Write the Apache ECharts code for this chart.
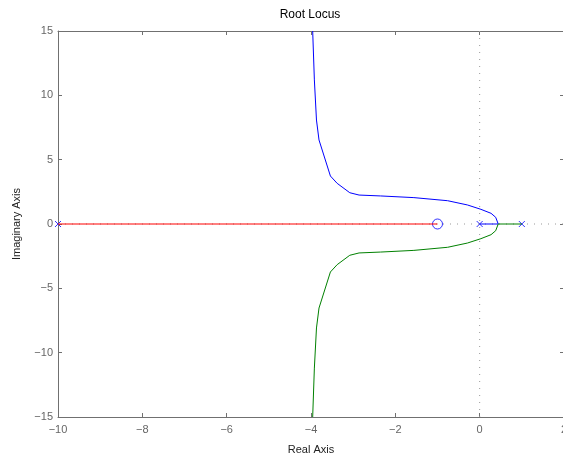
<!DOCTYPE html>
<html>
<head>
<meta charset="utf-8">
<style>html,body{margin:0;padding:0;background:#fff}#c{width:563px;height:456px}</style>
<script src="https://cdn.jsdelivr.net/npm/echarts@6/dist/echarts.min.js"></script>
</head>
<body>
<div id="c"></div>
<script>
// Data
var xTicks = [-10, -8, -6, -4, -2, 0, 2];
var yTicks = [-15, -10, -5, 0, 5, 10, 15];
var poles = [[-10, 0], [0, 0], [1, 0]];
var zeros = [[-1, 0]];
var redBranch = [[-10, 0], [-1, 0]];
var blueBranch = [[0, 0], [0.44, 0], [0.38, 0.52], [0.27, 0.83], [0.03, 1.14], [-0.29, 1.48], [-0.76, 1.81], [-1.56, 2.05], [-2.35, 2.18], [-2.86, 2.25], [-3.08, 2.43], [-3.38, 3.16], [-3.54, 3.73], [-3.81, 6.53], [-3.87, 8.08], [-3.92, 11.2], [-3.96, 15]];
var greenBranch = [[1, 0], [0.44, 0], [0.38, -0.52], [0.27, -0.83], [0.03, -1.14], [-0.29, -1.48], [-0.76, -1.81], [-1.56, -2.05], [-2.35, -2.18], [-2.86, -2.25], [-3.08, -2.43], [-3.38, -3.16], [-3.54, -3.73], [-3.81, -6.53], [-3.87, -8.08], [-3.92, -11.2], [-3.96, -15]];
var vGuide = [[0, -15], [0, 15]];
var hGuide = [[-10, 0], [2, 0]];

var fmt = function (v) { return String(v).replace('-', '\u2212'); };
var FONT = 'Liberation Sans, Arial, sans-serif';
var axisColor = '#707070';
var labelColor = '#666';

function xAx(pos, showLabel, name) {
  return {
    type: 'value', position: pos, min: -10, max: 2, interval: 2,
    axisLine: { show: true, onZero: false, lineStyle: { color: axisColor, width: 1 } },
    axisTick: { show: true, inside: true, length: 4, lineStyle: { color: axisColor } },
    axisLabel: { show: showLabel, formatter: fmt, color: labelColor, fontSize: 11, fontFamily: FONT, margin: 7 },
    splitLine: { show: false },
    name: name || '', nameLocation: 'middle', nameGap: 27,
    nameTextStyle: { color: '#222', fontSize: 11, fontFamily: FONT }
  };
}
function yAx(pos, showLabel, name) {
  return {
    type: 'value', position: pos, min: -15, max: 15, interval: 5,
    axisLine: { show: true, onZero: false, lineStyle: { color: axisColor, width: 1 } },
    axisTick: { show: true, inside: true, length: 4, lineStyle: { color: axisColor } },
    axisLabel: { show: showLabel, formatter: fmt, color: labelColor, fontSize: 11, fontFamily: FONT, margin: 5 },
    splitLine: { show: false },
    name: name || '', nameLocation: 'middle', nameGap: 36,
    nameTextStyle: { color: '#222', fontSize: 11, fontFamily: FONT }
  };
}

var chart = echarts.init(document.getElementById('c'), null, { renderer: 'canvas' });
chart.setOption({
  backgroundColor: '#fff',
  animation: false,
  grid: { left: 58, right: -1, top: 31, bottom: 39, containLabel: false, outerBoundsMode: 'none' },
  graphic: [{
    type: 'text', x: 310, y: 9,
    style: { text: 'Root Locus', fill: '#000', font: '12px ' + FONT, textAlign: 'center' }
  }],
  xAxis: [xAx('bottom', true, 'Real Axis'), xAx('top', false)],
  yAxis: [yAx('left', true, 'Imaginary Axis'), yAx('right', false)],
  series: [
    { type: 'line', data: vGuide, symbol: 'none', silent: true, lineStyle: { color: '#999', width: 1, type: [1, 6] } },
    { type: 'line', data: hGuide, symbol: 'none', silent: true, lineStyle: { color: '#999', width: 1, type: [1, 6] } },
    { type: 'line', data: redBranch, symbol: 'none', lineStyle: { color: '#ff0000', width: 1 } },
    { type: 'line', data: blueBranch, symbol: 'none', lineStyle: { color: '#0000ff', width: 1 } },
    { type: 'line', data: greenBranch, symbol: 'none', lineStyle: { color: '#008000', width: 1 } },
    { type: 'scatter', data: poles, symbol: 'path://M0,0L10,10M10,0L0,10', symbolSize: 6,
      itemStyle: { color: 'none', borderColor: '#0000ff', borderWidth: 1 } },
    { type: 'scatter', data: zeros, symbol: 'circle', symbolSize: 10,
      itemStyle: { color: 'rgba(0,0,0,0)', borderColor: '#0000ff', borderWidth: 1 } }
  ]
});
</script>
</body>
</html>
